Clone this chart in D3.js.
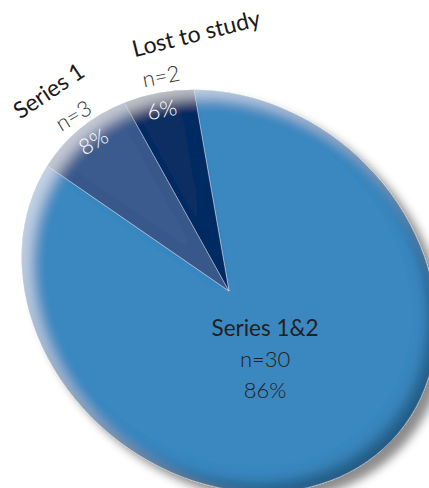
<!DOCTYPE html>
<html>
<head>
<meta charset="utf-8">
<script src="https://cdn.jsdelivr.net/npm/d3@7"></script>
<style>
  html, body { margin: 0; padding: 0; background: #fff; }
  svg { display: block; }
  text { font-family: Lato, "Open Sans", sans-serif; }
</style>
</head>
<body>
<div id="chart"></div>
<script>
// data
const categories = ["Series 1&2", "Series 1", "Lost to study"];
const counts = [30, 3, 2];
const percents = [86, 8, 6];
const colors = ["#3a87c0", "#3b5a8d", "#0f2d64"];

const w = 429;
const h = 488;

// the pie is squashed into a tilted ellipse
const cx = 229, cy = 291;
const a = 221, b = 186;
const tilt = 40;
const t = tilt * Math.PI / 180;

function project(phi, r) {
  const u = a * r * Math.sin(phi);
  const v = -b * r * Math.cos(phi);
  return [cx + u * Math.cos(t) - v * Math.sin(t), cy + u * Math.sin(t) + v * Math.cos(t)];
}

const svg = d3.select("#chart")
  .append("svg")
  .attr("width", w)
  .attr("height", h);

const defs = svg.append("defs");
const f = defs.append("filter")
  .attr("id", "bevel")
  .attr("filterUnits", "userSpaceOnUse")
  .attr("x", -50).attr("y", -50).attr("width", w + 100).attr("height", h + 100);

f.append("feGaussianBlur").attr("in", "SourceAlpha").attr("stdDeviation", 7).attr("result", "blur");
// light rim, top left
f.append("feOffset").attr("in", "blur").attr("dx", 10).attr("dy", 8).attr("result", "offHi");
f.append("feComposite").attr("in", "SourceAlpha").attr("in2", "offHi").attr("operator", "out").attr("result", "hiMask");
f.append("feFlood").attr("flood-color", "#ffffff").attr("flood-opacity", 0.55).attr("result", "hiCol");
f.append("feComposite").attr("in", "hiCol").attr("in2", "hiMask").attr("operator", "in").attr("result", "hi");
// dark rim, bottom right
f.append("feOffset").attr("in", "blur").attr("dx", -8).attr("dy", -9).attr("result", "offSh");
f.append("feComposite").attr("in", "SourceAlpha").attr("in2", "offSh").attr("operator", "out").attr("result", "shMask");
f.append("feFlood").attr("flood-color", "#0b2036").attr("flood-opacity", 0.62).attr("result", "shCol");
f.append("feComposite").attr("in", "shCol").attr("in2", "shMask").attr("operator", "in").attr("result", "sh");
// drop shadow
f.append("feGaussianBlur").attr("in", "SourceAlpha").attr("stdDeviation", 5).attr("result", "dsBlur");
f.append("feOffset").attr("in", "dsBlur").attr("dx", 9).attr("dy", 8).attr("result", "dsOff");
f.append("feFlood").attr("flood-color", "#000").attr("flood-opacity", 0.45).attr("result", "dsCol");
f.append("feComposite").attr("in", "dsCol").attr("in2", "dsOff").attr("operator", "in").attr("result", "ds");
const merge = f.append("feMerge");
["ds", "SourceGraphic", "hi", "sh"].forEach(n => merge.append("feMergeNode").attr("in", n));

const pie = d3.pie()
  .sort(null)
  .value(d => d)
  .startAngle(-Math.PI / 4)
  .endAngle(-Math.PI / 4 + 2 * Math.PI);

const arcs = pie(counts);

const arc = d3.arc()
  .innerRadius(0)
  .outerRadius(1);

const pieGroup = svg.append("g")
  .attr("filter", "url(#bevel)")
  .append("g")
  .attr("transform", `translate(${cx},${cy}) rotate(${tilt}) scale(${a},${b})`);

pieGroup.selectAll("path")
  .data(arcs)
  .enter()
  .append("path")
  .attr("d", arc)
  .attr("fill", (d, i) => colors[i])
  .attr("stroke", "rgba(255,255,255,0.45)")
  .attr("stroke-width", 0.8)
  .attr("vector-effect", "non-scaling-stroke");

const mid = d => (d.startAngle + d.endAngle) / 2;

// big slice: label block inside
const big = arcs[0];
const [bx, by] = project(mid(big), 0.3);
const bigLabel = svg.append("text")
  .attr("text-anchor", "middle")
  .attr("fill", "#231f20");
bigLabel.append("tspan").attr("x", bx).attr("y", by - 9)
  .style("font-size", "22.5px").text(categories[0]);
bigLabel.append("tspan").attr("x", bx).attr("y", by + 22)
  .style("font-size", "22px").style("font-weight", 300).text("n=" + counts[0]);
bigLabel.append("tspan").attr("x", bx).attr("y", by + 53)
  .style("font-size", "22px").style("font-weight", 300).text(percents[0] + "%");

// small slices: labels outside, turned along the rim
const outer = [
  { i: 1, rot: -34, nameR: 1.2, nameNudge: [-2, -5], nNudge: [1, -4], pNudge: [-2, -3] },
  { i: 2, rot: -14, nameR: 1.25, nameNudge: [56, -10], nNudge: [7, -6], pNudge: [-3, -3] }
];

outer.forEach(o => {
  const d = arcs[o.i];
  const m = mid(d);
  const [nx, ny] = project(m, o.nameR);
  const [cx1, cy1] = project(m, 1.054);
  const [px, py] = project(m, 0.9);

  svg.append("text")
    .attr("transform", `translate(${nx + o.nameNudge[0]},${ny + o.nameNudge[1]}) rotate(${o.rot})`)
    .attr("text-anchor", "middle")
    .attr("dy", "0.35em")
    .attr("fill", "#1a1a1a")
    .style("font-size", "23px")
    .text(categories[o.i]);

  svg.append("text")
    .attr("transform", `translate(${cx1 + o.nNudge[0]},${cy1 + o.nNudge[1]}) rotate(${o.rot + 3})`)
    .attr("text-anchor", "middle")
    .attr("dy", "0.35em")
    .attr("fill", "#333333")
    .style("font-size", "22px")
    .style("font-weight", 300)
    .text("n=" + counts[o.i]);

  svg.append("text")
    .attr("transform", `translate(${px + o.pNudge[0]},${py + o.pNudge[1]}) rotate(${o.rot + 3})`)
    .attr("text-anchor", "middle")
    .attr("dy", "0.35em")
    .attr("fill", "#ffffff")
    .style("font-size", "22px")
    .style("font-weight", 300)
    .text(percents[o.i] + "%");
});
</script>
</body>
</html>
